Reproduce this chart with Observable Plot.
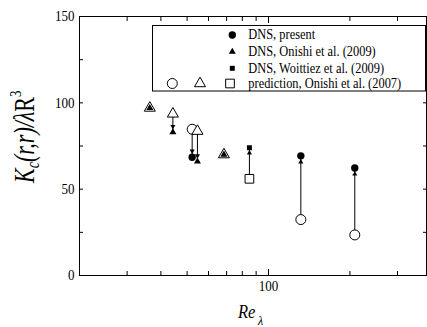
<!DOCTYPE html>
<html><head><meta charset="utf-8">
<script src="https://cdn.jsdelivr.net/npm/d3@7"></script>
<script src="https://cdn.jsdelivr.net/npm/@observablehq/plot@0.6"></script>
<style>body{margin:0;background:#fff} svg{font-family:"Liberation Serif",serif}</style>
</head><body><div id="chart"></div>
<script>
// Re_lambda and K_c values
const presentRe = [52.2, 131.7, 208.5];
const presentDNS = [68.5, 69.3, 62.3];
const presentPred = [84.7, 32.4, 23.5];
const onishiRe = [36.4, 44.3, 54.6, 68.4];
const onishiDNS = [97.0, 83.0, 66.0, 70.0];
const onishiPred = [97.0, 93.6, 83.6, 70.0];
const woittiezRe = [85.0];
const woittiezDNS = [74.0];
const woittiezPred = [56.0];
const xTickLabels = [100];
const xMinorTicks = [30, 40, 50, 60, 70, 80, 90, 200, 300];
const yTickLabels = [0, 50, 100, 150];
const yMinorTicks = [25, 75, 125];
const legendLabels = ["DNS, present", "DNS, Onishi et al. (2009)", "DNS, Woittiez et al. (2009)", "prediction, Onishi et al. (2007)"];

const mk = (re, dns, pred, kind) => re.map((x, i) => ({x, dns: dns[i], pred: pred[i], kind, up: dns[i] > pred[i], arrow: dns[i] !== pred[i]}));
const present = mk(presentRe, presentDNS, presentPred, "circle");
const onishi = mk(onishiRe, onishiDNS, onishiPred, "triangle");
const woittiez = mk(woittiezRe, woittiezDNS, woittiezPred, "square");
const all = [...present, ...onishi, ...woittiez];
const arrows = all.filter(d => d.arrow);

const rOpen = {circle: 5, triangle: 4.1, square: 4.9};
const rFill = {circle: 3.7, triangle: 2.6, square: 2.8};
const blank = () => "";
const FONT = '"Liberation Serif", "Times New Roman", serif';

const plot = Plot.plot({
  width: 427, height: 327,
  marginLeft: 79, marginRight: 1, marginTop: 16, marginBottom: 52,
  style: {fontFamily: FONT, fontSize: "13px", background: "white", color: "black"},
  x: {type: "log", domain: [20, 384]},
  y: {domain: [0, 150]},
  marks: [
    Plot.frame({stroke: "black", strokeWidth: 1}),
    Plot.axisY({ticks: yTickLabels, tickSize: 0, tickPadding: 5, label: null}),
    Plot.axisY({ticks: [...yTickLabels, ...yMinorTicks], tickSize: -4, tickFormat: blank, label: null}),
    Plot.axisY({anchor: "right", ticks: [...yTickLabels, ...yMinorTicks], tickSize: -4, tickFormat: blank, label: null}),
    Plot.axisX({ticks: xTickLabels, tickSize: 0, tickPadding: 5, tickFormat: d => String(d), label: null}),
    Plot.axisX({ticks: xTickLabels, tickSize: -6, tickFormat: blank, label: null}),
    Plot.axisX({ticks: xMinorTicks, tickSize: -4, tickFormat: blank, label: null}),
    Plot.axisX({anchor: "top", ticks: xTickLabels, tickSize: -6, tickFormat: blank, label: null}),
    Plot.axisX({anchor: "top", ticks: xMinorTicks, tickSize: -4, tickFormat: blank, label: null}),
    Plot.link(arrows, {x1: "x", x2: "x", y1: "pred", y2: "dns", stroke: "black", strokeWidth: 1}),
    ...["circle", "triangle", "square"].map(k =>
      Plot.dot(all.filter(d => d.kind === k), {x: "x", y: "pred", symbol: k, r: rOpen[k], fill: "white", stroke: "black", strokeWidth: 1})),
    ...["circle", "triangle", "square"].map(k =>
      Plot.dot(all.filter(d => d.kind === k), {x: "x", y: "dns", symbol: k, r: rFill[k], fill: "black", stroke: "none"})),
    Plot.dot(arrows.filter(d => d.up && d.kind === "circle"), {x: "x", y: "dns", dy: 6.2, symbol: "triangle", r: 1.9, fill: "black"}),
    Plot.dot(arrows.filter(d => d.up && d.kind === "square"), {x: "x", y: "dns", dy: 5.2, symbol: "triangle", r: 1.9, fill: "black"}),
    Plot.dot(arrows.filter(d => !d.up && d.kind === "circle"), {x: "x", y: "dns", dy: -6.2, symbol: "triangle", rotate: 180, r: 1.9, fill: "black"}),
    Plot.dot(arrows.filter(d => !d.up && d.kind === "triangle"), {x: "x", y: "dns", dy: -5.8, symbol: "triangle", rotate: 180, r: 1.9, fill: "black"})
  ]
});

const svg = d3.select(plot);
svg.selectAll('g[aria-label$="tick label"] text').attr("transform", function () {
  return (this.getAttribute("transform") || "") + " scale(1,1.15)";
});

// Legend
const lg = svg.append("g").attr("font-family", FONT).attr("text-anchor", "start");
lg.append("rect").attr("x", 152.5).attr("y", 25.5).attr("width", 273).attr("height", 65.5)
  .attr("fill", "white").attr("stroke", "black").attr("stroke-width", 1);
const rowY = [35, 51.7, 68.3, 83.5];
const sym = (type, r) => d3.symbol(type, Math.PI * r * r)();
[[d3.symbolCircle, rFill.circle], [d3.symbolTriangle, rFill.triangle], [d3.symbolSquare, rFill.square]].forEach(([t, r], i) => {
  lg.append("path").attr("d", sym(t, r)).attr("transform", `translate(232.3,${rowY[i]})`).attr("fill", "black");
});
[[d3.symbolCircle, rOpen.circle, 172.3], [d3.symbolTriangle, rOpen.triangle, 200], [d3.symbolSquare, rOpen.square, 230]].forEach(([t, r, x]) => {
  lg.append("path").attr("d", sym(t, r)).attr("transform", `translate(${x},${rowY[3]})`)
    .attr("fill", "white").attr("stroke", "black").attr("stroke-width", 1);
});
legendLabels.forEach((s, i) => {
  lg.append("text").attr("transform", `translate(248.3,${rowY[i] + 4.2}) scale(1,1.15)`)
    .attr("font-size", 12.4).attr("fill", "black").attr("text-anchor", "start").text(s);
});

// Y axis label
const yl = svg.append("text").attr("transform", "translate(33.5,183) rotate(-90) scale(1,1.3)")
  .attr("font-family", FONT).attr("text-anchor", "start")
  .attr("font-size", 22).attr("font-style", "italic").attr("fill", "black");
yl.append("tspan").text("K");
yl.append("tspan").attr("font-size", 14).attr("dy", 4).text("c");
yl.append("tspan").attr("dy", -4).text("(r,r)/λ");
yl.append("tspan").attr("font-style", "normal").text("R");
yl.append("tspan").attr("font-size", 13).attr("dy", -10).attr("font-style", "normal").text("3");

// X axis label
const xl = svg.append("text").attr("transform", "translate(238,318) scale(1,1.12)")
  .attr("font-family", FONT).attr("text-anchor", "start")
  .attr("font-size", 16.5).attr("font-style", "italic").attr("fill", "black");
xl.append("tspan").text("Re");
xl.append("tspan").attr("font-size", 12).attr("dx", 2.5).attr("dy", 6.5).text("λ");

document.getElementById("chart").appendChild(plot);
</script>
</body></html>
